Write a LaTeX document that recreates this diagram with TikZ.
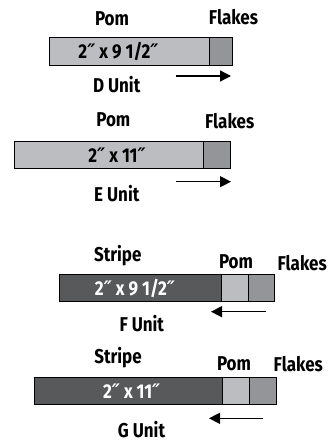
\documentclass[tikz,border=0pt]{standalone}
\usepackage{fontspec}
\setmainfont{Fira Sans}[FakeStretch=0.85,BoldFont={Fira Sans Bold}]
\newfontfamily\inchfont{DejaVu Sans Condensed}[BoldFont={DejaVu Sans Condensed Bold}]
\newcommand{\inch}{{\inchfont\bfseries\itshape ″}}
\usetikzlibrary{arrows.meta}
\definecolor{pomc}{HTML}{BCBDC0}
\definecolor{flakec}{HTML}{939598}
\definecolor{stripec}{HTML}{58595B}
\tikzset{
  seg/.style={draw=black,line width=0.9pt,inner sep=0pt,outer sep=0pt},
  lbl/.style={font=\bfseries\fontsize{20}{22}\selectfont,inner sep=0pt,anchor=base},
  dim/.style={font=\bfseries\fontsize{20}{22}\selectfont,inner sep=0pt,anchor=base},
  dir/.style={line width=1.3pt,-{Triangle[length=11pt,width=11pt]}}
}
\begin{document}
\begin{tikzpicture}[x=1pt,y=-1pt]
\useasboundingbox (0,0) rectangle (327,441);
% D unit
\path[seg,fill=pomc] (49.3,37.7) rectangle (209.3,65.3);
\path[seg,fill=flakec] (209.3,37.7) rectangle (232.3,65.3);
\node[dim] (dt) at (118.5,58.3) {2\inch{} x 9 1/2\inch};
\node[lbl] (dpom) at (112,25.7) {Pom};
\node[lbl] (dfl) at (233.5,25) {Flakes};
\node[lbl] (du) at (116.7,92.7) {D Unit};
\coordinate (da1) at (175.7,76); \coordinate (da2) at (231,76);
\draw[dir] (da1) -- (da2);
% E unit
\path[seg,fill=pomc] (14.7,141.7) rectangle (203.3,168.7);
\path[seg,fill=flakec] (203.3,141.7) rectangle (230,168.7);
\node[dim] (et) at (117,162.7) {2\inch{} x 11\inch};
\node[lbl] (epom) at (113.3,126) {Pom};
\node[lbl] (efl) at (229.7,128.3) {Flakes};
\node[lbl] (eu) at (116.8,201.5) {E Unit};
\coordinate (ea1) at (175.7,181.7); \coordinate (ea2) at (231,181.7);
\draw[dir] (ea1) -- (ea2);
% F unit
\path[seg,fill=stripec] (59.3,274.3) rectangle (221.7,301.3);
\path[seg,fill=pomc] (221.7,274.3) rectangle (248.7,301.3);
\path[seg,fill=flakec] (248.7,274.3) rectangle (274,301.3);
\node[dim,text=white] (ft) at (135,295.5) {2\inch{} x 9 1/2\inch};
\node[lbl] (fs) at (117.8,261.7) {Stripe};
\node[lbl] (fpom) at (236,268.3) {Pom};
\node[lbl] (ffl) at (302.2,270) {Flakes};
\node[lbl] (fu) at (141.8,331.7) {F Unit};
\coordinate (fa1) at (265.7,311.7); \coordinate (fa2) at (211,311.7);
\draw[dir] (fa1) -- (fa2);
% G unit
\path[seg,fill=stripec] (34,377.7) rectangle (222.7,404.3);
\path[seg,fill=pomc] (222.7,377.7) rectangle (249.3,404.3);
\path[seg,fill=flakec] (249.3,377.7) rectangle (276.7,404.3);
\node[dim,text=white] (gt) at (131.7,398) {2\inch{} x 11\inch};
\node[lbl] (gs) at (118,363.3) {Stripe};
\node[lbl] (gpom) at (234,370) {Pom};
\node[lbl] (gfl) at (298.3,371.7) {Flakes};
\node[lbl] (gu) at (141.5,437) {G Unit};
\coordinate (ga1) at (263.3,418.3); \coordinate (ga2) at (209,418.3);
\draw[dir] (ga1) -- (ga2);
\end{tikzpicture}
\end{document}
